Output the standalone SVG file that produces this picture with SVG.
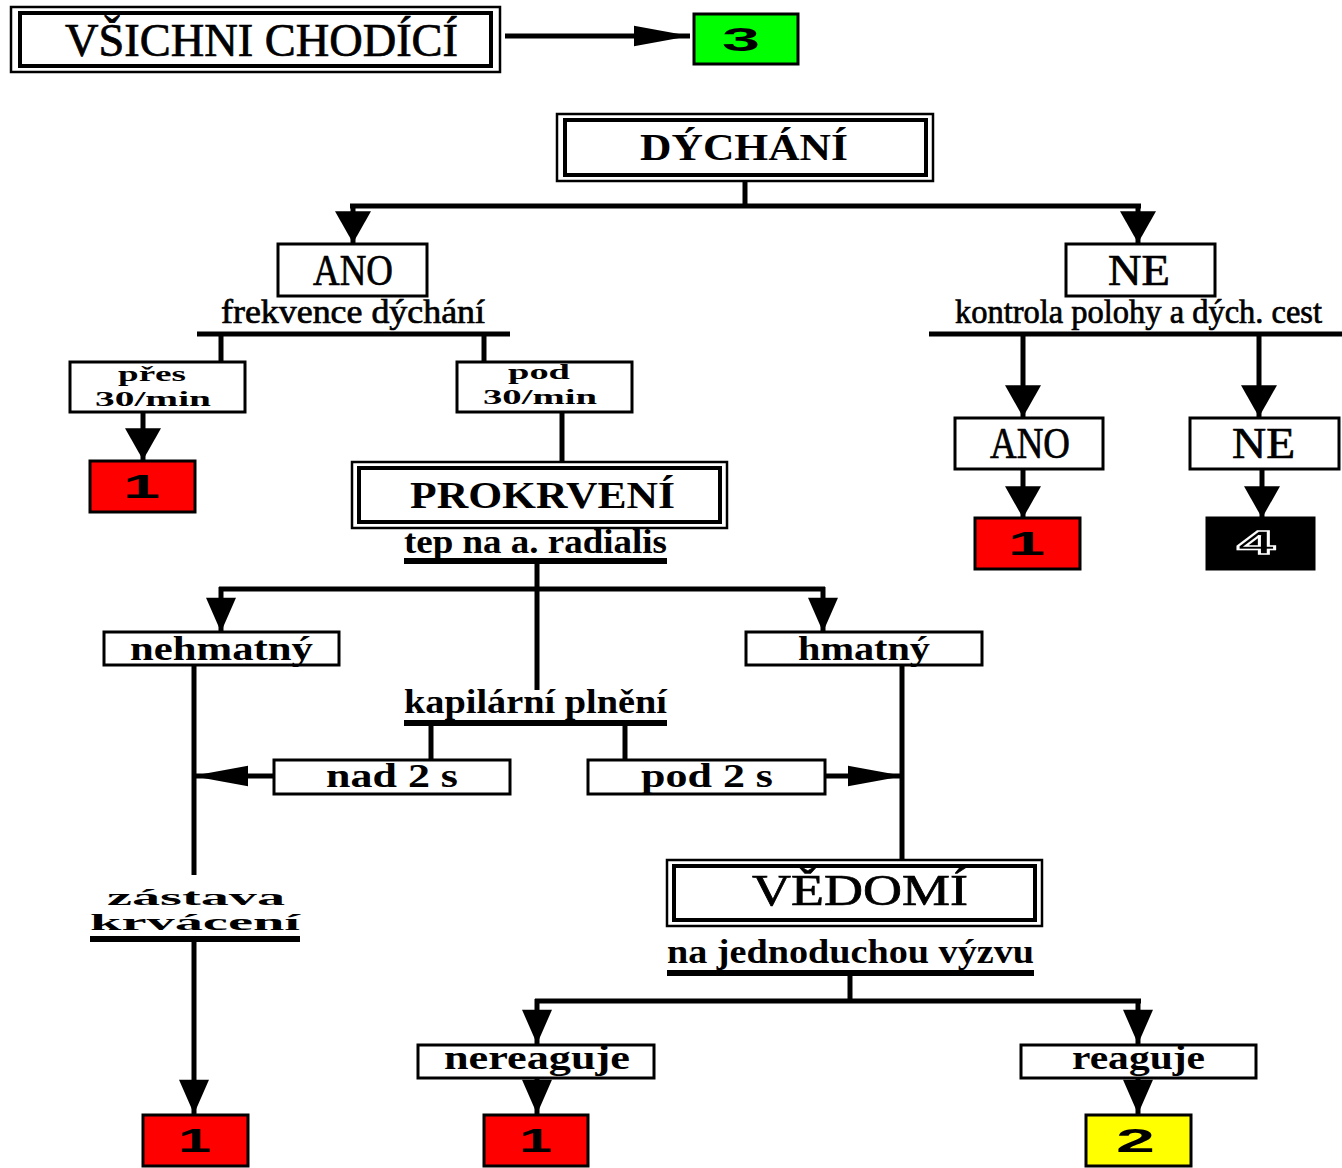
<svg xmlns="http://www.w3.org/2000/svg" width="1342" height="1168" viewBox="0 0 1342 1168">
<style>
.bx{fill:#fff;stroke:#000;stroke-width:3}
.ob{fill:#fff;stroke:#000;stroke-width:2.5}
.ib{fill:none;stroke:#000;stroke-width:4}
.sr{font-family:"Liberation Serif","Times New Roman",serif;fill:#000;stroke:#000;stroke-width:0.7}
.lb{font-family:"Liberation Serif","Times New Roman",serif;font-weight:bold;fill:#000}
.sb{font-family:"Liberation Serif","Times New Roman",serif;font-weight:bold;fill:#000}
.dg{font-family:"Liberation Sans",Arial,sans-serif;font-weight:bold;fill:#000;font-size:34px}
.c{stroke:#000;stroke-width:5;fill:none}
.bar{fill:#000}
</style>
<defs>
<marker id="big" markerUnits="userSpaceOnUse" markerWidth="36" markerHeight="36" viewBox="0 0 30 34" refX="30" refY="17" orient="auto"><path d="M0,0 L30,17 L0,34 Z" fill="#000"/></marker>
<marker id="slim" markerUnits="userSpaceOnUse" markerWidth="36" markerHeight="30" viewBox="0 0 32 28" refX="32" refY="14" orient="auto"><path d="M0,0 L32,14 L0,28 Z" fill="#000"/></marker>
<marker id="thin" markerUnits="userSpaceOnUse" markerWidth="56" markerHeight="22" viewBox="0 0 54 20" refX="54" refY="10" orient="auto"><path d="M0,0 L54,10 L0,20 Z" fill="#000"/></marker>
</defs>

<g id="connectors">
<line class="c" x1="505" y1="36" x2="690" y2="36" marker-end="url(#thin)"/>
<line class="c" x1="745" y1="181" x2="745" y2="206"/>
<line class="c" x1="350" y1="206" x2="1141" y2="206"/>
<line class="c" x1="353" y1="204" x2="353" y2="243" marker-end="url(#big)"/>
<line class="c" x1="1138" y1="204" x2="1138" y2="243" marker-end="url(#big)"/>
<line class="c" x1="197" y1="334" x2="510" y2="334"/>
<line class="c" x1="221" y1="334" x2="221" y2="361"/>
<line class="c" x1="484" y1="334" x2="484" y2="361"/>
<line class="c" x1="143" y1="412" x2="143" y2="460" marker-end="url(#big)"/>
<line class="c" x1="562" y1="412" x2="562" y2="461"/>
<line class="c" x1="929" y1="334" x2="1342" y2="334"/>
<line class="c" x1="1023" y1="334" x2="1023" y2="417" marker-end="url(#big)"/>
<line class="c" x1="1259" y1="334" x2="1259" y2="417" marker-end="url(#big)"/>
<line class="c" x1="1023" y1="469" x2="1023" y2="518" marker-end="url(#big)"/>
<line class="c" x1="1262" y1="469" x2="1262" y2="518" marker-end="url(#big)"/>
<line class="c" x1="537" y1="561" x2="537" y2="690"/>
<line class="c" x1="219" y1="589" x2="825" y2="589"/>
<line class="c" x1="221" y1="587" x2="221" y2="632" marker-end="url(#slim)"/>
<line class="c" x1="823" y1="587" x2="823" y2="632" marker-end="url(#slim)"/>
<line class="c" x1="194" y1="665" x2="194" y2="875"/>
<line class="c" x1="194" y1="940" x2="194" y2="1114" marker-end="url(#slim)"/>
<line class="c" x1="902" y1="660" x2="902" y2="860"/>
<line class="c" x1="431" y1="723" x2="431" y2="760"/>
<line class="c" x1="625" y1="723" x2="625" y2="760"/>
<line class="c" x1="273" y1="776" x2="192" y2="776" marker-end="url(#thin)"/>
<line class="c" x1="825" y1="776" x2="904" y2="776" marker-end="url(#thin)"/>
<line class="c" x1="850" y1="974" x2="850" y2="1001"/>
<line class="c" x1="535" y1="1001" x2="1141" y2="1001"/>
<line class="c" x1="537" y1="999" x2="537" y2="1044" marker-end="url(#slim)"/>
<line class="c" x1="1138" y1="999" x2="1138" y2="1044" marker-end="url(#slim)"/>
<line class="c" x1="537" y1="1078" x2="537" y2="1114" marker-end="url(#slim)"/>
<line class="c" x1="1138" y1="1078" x2="1138" y2="1114" marker-end="url(#slim)"/>
</g>

<g id="vsichni">
<rect class="ob" x="11" y="7" width="489" height="65"/>
<rect class="ib" x="20" y="13" width="471" height="53"/>
<text class="sr" x="65" y="56" font-size="46" textLength="393" lengthAdjust="spacingAndGlyphs">VŠICHNI CHODÍCÍ</text>
</g>
<g id="n3">
<rect x="694" y="14" width="104" height="50" fill="#00ff00" stroke="#000" stroke-width="3"/>
<text class="dg" x="722" y="51" textLength="38" lengthAdjust="spacingAndGlyphs">3</text>
</g>

<g id="dychani">
<rect class="ob" x="557" y="114" width="376" height="67"/>
<rect class="ib" x="565" y="120" width="361" height="55"/>
<text class="sb" x="640" y="160" font-size="38" textLength="208" lengthAdjust="spacingAndGlyphs">DÝCHÁNÍ</text>
</g>

<g id="ano1">
<rect class="bx" x="278" y="244" width="149" height="52"/>
<text class="sr" x="313" y="285" font-size="44" textLength="80" lengthAdjust="spacingAndGlyphs">ANO</text>
</g>
<g id="frekvence">
<text class="sr" x="221" y="323" font-size="34" textLength="264" lengthAdjust="spacingAndGlyphs">frekvence dýchání</text>
</g>
<g id="pres">
<rect class="bx" x="70" y="362" width="175" height="50"/>
<text class="sb" x="118" y="381" font-size="22" textLength="68" lengthAdjust="spacingAndGlyphs">přes</text>
<text class="sb" x="95" y="406" font-size="22" textLength="116" lengthAdjust="spacingAndGlyphs">30/min</text>
</g>
<g id="r1a">
<rect x="90" y="461" width="105" height="51" fill="#ff0000" stroke="#000" stroke-width="3"/>
<text class="dg" x="123" y="498" textLength="37" lengthAdjust="spacingAndGlyphs">1</text>
</g>
<g id="pod30">
<rect class="bx" x="457" y="362" width="175" height="50"/>
<text class="sb" x="508" y="379" font-size="22" textLength="62" lengthAdjust="spacingAndGlyphs">pod</text>
<text class="sb" x="483" y="404" font-size="22" textLength="114" lengthAdjust="spacingAndGlyphs">30/min</text>
</g>

<g id="ne1">
<rect class="bx" x="1066" y="244" width="149" height="52"/>
<text class="sr" x="1108" y="285" font-size="44" textLength="62" lengthAdjust="spacingAndGlyphs">NE</text>
</g>
<g id="kontrola">
<text class="sr" x="955" y="323" font-size="34" textLength="367" lengthAdjust="spacingAndGlyphs">kontrola polohy a dých. cest</text>
</g>
<g id="ano2">
<rect class="bx" x="955" y="418" width="148" height="51"/>
<text class="sr" x="990" y="458" font-size="44" textLength="80" lengthAdjust="spacingAndGlyphs">ANO</text>
</g>
<g id="ne2">
<rect class="bx" x="1190" y="418" width="149" height="51"/>
<text class="sr" x="1232" y="458" font-size="44" textLength="63" lengthAdjust="spacingAndGlyphs">NE</text>
</g>
<g id="r1b">
<rect x="975" y="518" width="105" height="51" fill="#ff0000" stroke="#000" stroke-width="3"/>
<text class="dg" x="1008" y="555" textLength="37" lengthAdjust="spacingAndGlyphs">1</text>
</g>
<g id="b4">
<rect x="1207" y="518" width="107" height="51" fill="#000" stroke="#000" stroke-width="3"/>
<text class="dg" x="1237" y="554" textLength="38" lengthAdjust="spacingAndGlyphs" style="fill:#000;stroke:#fff;stroke-width:1.5">4</text>
</g>

<g id="prokrveni">
<rect class="ob" x="352" y="462" width="375" height="66"/>
<rect class="ib" x="359" y="468" width="361" height="54"/>
<text class="sb" x="410" y="508" font-size="38" textLength="265" lengthAdjust="spacingAndGlyphs">PROKRVENÍ</text>
</g>
<g id="tep">
<text class="lb" x="404" y="553" font-size="34" textLength="263" lengthAdjust="spacingAndGlyphs">tep na a. radialis</text>
<rect class="bar" x="404" y="558" width="263" height="6"/>
</g>

<g id="nehmatny">
<rect class="bx" x="104" y="632" width="235" height="33"/>
<text class="lb" x="130" y="660" font-size="34" textLength="183" lengthAdjust="spacingAndGlyphs">nehmatný</text>
</g>
<g id="hmatny">
<rect class="bx" x="746" y="632" width="236" height="33"/>
<text class="lb" x="798" y="660" font-size="34" textLength="132" lengthAdjust="spacingAndGlyphs">hmatný</text>
</g>
<g id="kapilarni">
<text class="lb" x="404" y="713" font-size="34" textLength="263" lengthAdjust="spacingAndGlyphs">kapilární plnění</text>
<rect class="bar" x="404" y="720" width="263" height="6"/>
</g>
<g id="nad2">
<rect class="bx" x="274" y="760" width="236" height="34"/>
<text class="lb" x="326" y="787" font-size="34" textLength="132" lengthAdjust="spacingAndGlyphs">nad 2 s</text>
</g>
<g id="pod2">
<rect class="bx" x="588" y="760" width="237" height="34"/>
<text class="lb" x="641" y="787" font-size="34" textLength="132" lengthAdjust="spacingAndGlyphs">pod 2 s</text>
</g>

<g id="zastava">
<text class="sb" x="107" y="905" font-size="24" textLength="178" lengthAdjust="spacingAndGlyphs">zástava</text>
<text class="sb" x="90" y="930" font-size="24" textLength="210" lengthAdjust="spacingAndGlyphs">krvácení</text>
<rect class="bar" x="90" y="936" width="210" height="6"/>
</g>
<g id="r1c">
<rect x="143" y="1115" width="105" height="51" fill="#ff0000" stroke="#000" stroke-width="3"/>
<text class="dg" x="178" y="1152" textLength="33" lengthAdjust="spacingAndGlyphs">1</text>
</g>

<g id="vedomi">
<rect class="ob" x="667" y="860" width="375" height="66"/>
<rect class="ib" x="674" y="866" width="361" height="54"/>
<text class="sr" x="752" y="905" font-size="44" textLength="216" lengthAdjust="spacingAndGlyphs">VĚDOMÍ</text>
</g>
<g id="jednoduchou">
<text class="lb" x="667" y="963" font-size="34" textLength="367" lengthAdjust="spacingAndGlyphs">na jednoduchou výzvu</text>
<rect class="bar" x="667" y="970" width="367" height="6"/>
</g>
<g id="nereaguje">
<rect class="bx" x="418" y="1045" width="236" height="33"/>
<text class="lb" x="444" y="1069" font-size="34" textLength="186" lengthAdjust="spacingAndGlyphs">nereaguje</text>
</g>
<g id="reaguje">
<rect class="bx" x="1021" y="1045" width="235" height="33"/>
<text class="lb" x="1072" y="1069" font-size="34" textLength="133" lengthAdjust="spacingAndGlyphs">reaguje</text>
</g>
<g id="r1d">
<rect x="484" y="1115" width="104" height="51" fill="#ff0000" stroke="#000" stroke-width="3"/>
<text class="dg" x="519" y="1152" textLength="33" lengthAdjust="spacingAndGlyphs">1</text>
</g>
<g id="y2">
<rect x="1086" y="1115" width="105" height="51" fill="#ffff00" stroke="#000" stroke-width="3"/>
<text class="dg" x="1116" y="1152" textLength="39" lengthAdjust="spacingAndGlyphs">2</text>
</g>
</svg>
